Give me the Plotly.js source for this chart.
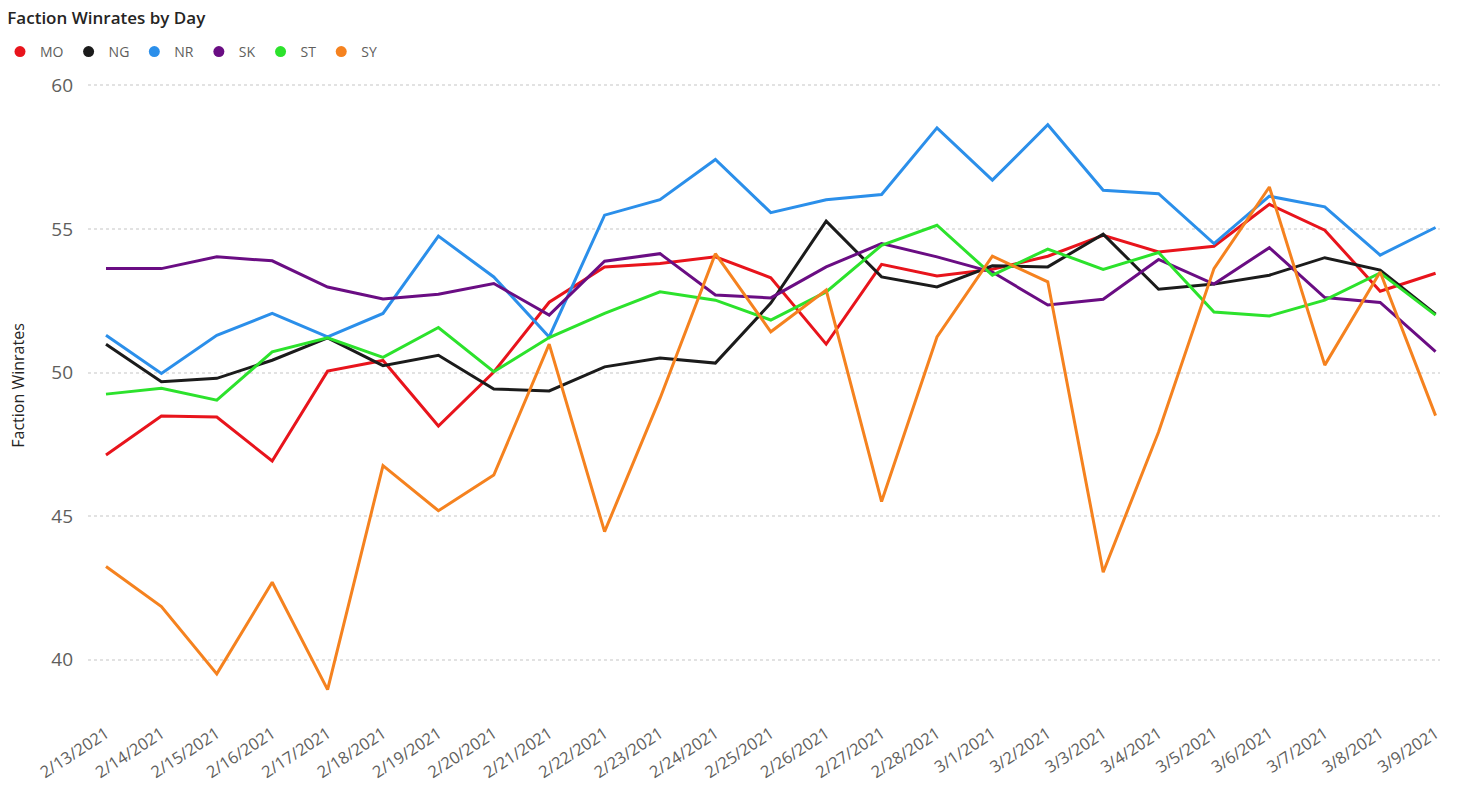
<!DOCTYPE html>
<html>
<head>
<meta charset="utf-8">
<script src="https://cdn.plot.ly/plotly-3.0.1.min.js"></script>
<style>
html,body{margin:0;padding:0;background:#fff;}
#chart{width:1460px;height:800px;}
</style>
</head>
<body>
<div id="chart"></div>
<script>
const days = ["2/13/2021","2/14/2021","2/15/2021","2/16/2021","2/17/2021","2/18/2021","2/19/2021","2/20/2021","2/21/2021","2/22/2021","2/23/2021","2/24/2021","2/25/2021","2/26/2021","2/27/2021","2/28/2021","3/1/2021","3/2/2021","3/3/2021","3/4/2021","3/5/2021","3/6/2021","3/7/2021","3/8/2021","3/9/2021"];

const MO = [47.13,48.49,48.45,46.92,50.05,50.42,48.14,50.02,52.45,53.68,53.8,54.03,53.3,50.99,53.77,53.36,53.6,54.05,54.78,54.2,54.4,55.86,54.96,52.83,53.46];
const NG = [50.99,49.68,49.8,50.43,51.21,50.24,50.6,49.43,49.36,50.2,50.51,50.33,52.42,55.27,53.33,52.98,53.72,53.68,54.82,52.9,53.08,53.39,54.0,53.57,52.03];
const NR = [51.3,49.97,51.3,52.06,51.24,52.06,54.75,53.33,51.24,55.48,56.02,57.42,55.57,56.02,56.2,58.52,56.7,58.63,56.35,56.23,54.49,56.14,55.77,54.09,55.05];
const SK = [53.62,53.62,54.03,53.89,52.98,52.56,52.73,53.1,52.0,53.88,54.14,52.7,52.6,53.68,54.49,54.03,53.5,52.35,52.55,53.94,53.08,54.35,52.61,52.44,50.73];
const ST = [49.25,49.45,49.04,50.72,51.21,50.53,51.57,50.03,51.22,52.06,52.81,52.52,51.83,52.81,54.43,55.13,53.39,54.3,53.59,54.18,52.11,51.97,52.52,53.47,52.0];
const SY = [43.25,41.85,39.51,42.7,38.96,46.76,45.19,46.43,50.99,44.46,49.1,54.14,51.42,52.87,45.51,51.24,54.05,53.16,43.05,47.93,53.62,56.46,50.26,53.5,48.5];

const factionNames = ["MO","NG","NR","SK","ST","SY"];
const factionValues = [MO, NG, NR, SK, ST, SY];
const factionColors = ["#E8141C","#1B1B1B","#2B8FEA","#6A0D83","#2CE22C","#F5821F"];

const yTickVals = [40,45,50,55,60];

const traces = [];
factionNames.forEach((name, i) => {
  traces.push({
    type: "scatter", mode: "lines", name: name,
    x: days, y: factionValues[i],
    line: {color: factionColors[i], width: 3},
    showlegend: false, legendgroup: name,
    hovertemplate: name + ": %{y:.2f}<extra></extra>"
  });
});
factionNames.forEach((name, i) => {
  traces.push({
    type: "scatter", mode: "markers", name: name,
    x: [null], y: [null],
    marker: {color: factionColors[i], size: 11, symbol: "circle"},
    showlegend: true, legendgroup: name, hoverinfo: "skip"
  });
});

const layout = {
  width: 1460, height: 800,
  paper_bgcolor: "#ffffff", plot_bgcolor: "#ffffff",
  margin: {l: 88, r: 20, t: 70.6, b: 100},
  font: {family: "'Open Sans', 'Noto Sans', sans-serif", color: "#605E5C"},
  title: {
    text: "Faction Winrates by Day",
    x: 0.005, xanchor: "left", xref: "container",
    y: 0.978, yanchor: "middle", yref: "container",
    font: {size: 17, color: "#252423", weight: 600, family: "'Open Sans', 'Noto Sans', sans-serif"}
  },
  showlegend: true,
  legend: {
    orientation: "h", xref: "container", yref: "container",
    x: 0.0, xanchor: "left", y: 1 - 52/800, yanchor: "middle",
    font: {size: 14, color: "#605E5C"},
    itemwidth: 30, tracegroupgap: 0, bgcolor: "rgba(0,0,0,0)"
  },
  xaxis: {
    type: "category",
    range: [-0.325, 24.08],
    showgrid: false, zeroline: false, showline: false, ticks: "",
    tickangle: -33,
    ticklabelstandoff: 20,
    tickfont: {size: 16.5, color: "#605E5C"}
  },
  yaxis: {
    range: [38.6, 60.5],
    tickvals: yTickVals,
    showgrid: true, gridcolor: "#E2E2E2", griddash: "dot", gridwidth: 1.5,
    zeroline: false, showline: false, ticks: "",
    ticklabelstandoff: 14,
    tickfont: {size: 19, color: "#605E5C"},
    title: {text: "Faction Winrates", standoff: 22, font: {size: 16, color: "#252423"}}
  }
};

Plotly.newPlot("chart", traces, layout, {displayModeBar: false, responsive: false});
</script>
</body>
</html>
